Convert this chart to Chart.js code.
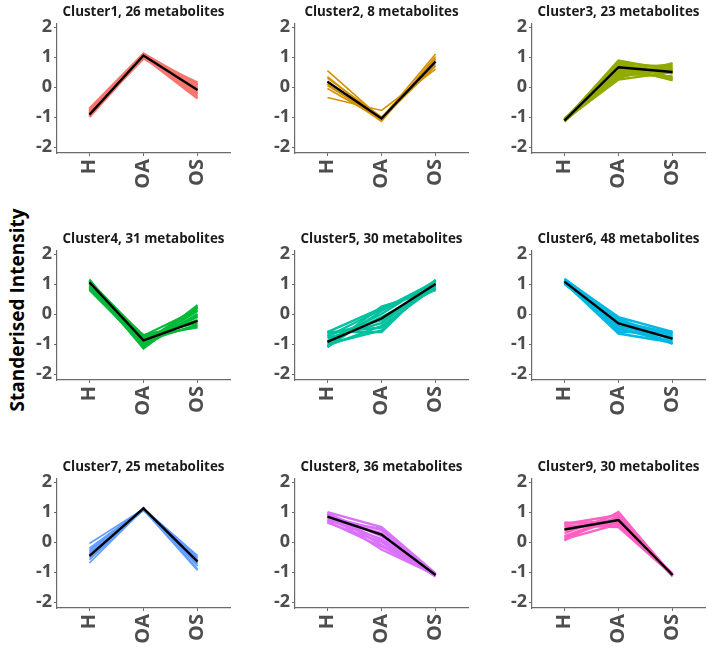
<!DOCTYPE html>
<html>
<head>
<meta charset="utf-8">
<script src="https://cdn.jsdelivr.net/npm/chart.js@4/dist/chart.umd.min.js"></script>
<style>
  html, body { margin: 0; padding: 0; background: #fff; }
  #wrap { position: relative; width: 708px; height: 649px; overflow: hidden; background: #fff; }
  canvas { position: absolute; }
  #ylab { position: absolute; left: 17px; top: 310px; transform: translate(-50%, -50%) rotate(-90deg);
          white-space: nowrap; font: bold 19px 'Open Sans', 'Noto Sans', sans-serif; color: #000; }
</style>
</head>
<body>
<div id="wrap"><div id="ylab"></div></div>
<script>
// ---- data ----
const categories = ['H', 'OA', 'OS'];
const yTicks = [-2, -1, 0, 1, 2];
const clusterIds = [1, 2, 3, 4, 5, 6, 7, 8, 9];
const clusterCounts = [26, 8, 23, 31, 30, 48, 25, 36, 30];
const yAxisLabel = 'Standerised Intensity';

// individual metabolite profiles (H, OA, OS) per cluster, and cluster mean
const c1Lines = [[-1.0, 1.0, -0.38], [-0.95, 1.1, -0.25], [-0.85, 1.05, -0.15], [-0.72, 1.12, 0.05], [-0.75, 1.0, 0.15], [-0.9, 0.95, -0.05], [-0.98, 1.08, 0.0], [-0.82, 1.02, -0.32], [-0.88, 1.1, 0.1], [-0.78, 1.06, -0.2], [-0.93, 1.0, 0.08], [-0.8, 0.98, -0.1]];
const c1Mean = [-0.92, 1.05, -0.1];
const c2Lines = [[0.55, -1.05, 1.1], [0.35, -1.1, 0.95], [0.3, -1.0, 0.85], [0.1, -1.15, 1.02], [-0.05, -1.08, 0.75], [-0.35, -0.78, 0.6], [0.2, -1.12, 0.92], [0.05, -1.05, 0.7]];
const c2Mean = [0.18, -1.05, 0.85];
const c3Lines = [[-1.1, 0.85, 0.3], [-1.12, 0.3, 0.8], [-1.08, 0.75, 0.45], [-1.15, 0.5, 0.6], [-1.1, 0.65, 0.25], [-1.05, 0.4, 0.7], [-1.12, 0.88, 0.55], [-1.1, 0.25, 0.5], [-1.08, 0.6, 0.75], [-1.13, 0.7, 0.22], [-1.1, 0.8, 0.65], [-1.09, 0.45, 0.35], [-1.11, 0.55, 0.48], [-1.1, 0.35, 0.6]];
const c3Mean = [-1.12, 0.66, 0.5];
const c4Lines = [[1.15, -1.1, 0.3], [1.1, -0.75, -0.45], [0.8, -1.0, 0.1], [0.9, -0.7, -0.3], [1.0, -1.15, 0.2], [1.12, -0.9, -0.1], [0.85, -0.85, -0.4], [1.05, -1.05, 0.0], [0.95, -0.8, -0.2], [1.08, -0.95, 0.25], [0.88, -1.08, -0.05], [1.02, -0.72, 0.15], [0.92, -0.92, -0.35]];
const c4Mean = [1.06, -0.88, -0.23];
const c5Lines = [[-0.6, -0.6, 1.15], [-1.1, 0.25, 0.8], [-0.6, 0.2, 0.9], [-1.0, -0.55, 1.1], [-0.8, -0.3, 1.0], [-1.1, 0.1, 1.05], [-0.7, -0.2, 0.85], [-0.9, 0.0, 1.12], [-0.62, -0.45, 0.95], [-1.05, -0.4, 0.9], [-0.75, 0.15, 1.08], [-0.95, -0.1, 0.82]];
const c5Mean = [-0.93, -0.15, 1.0];
const c6Lines = [[1.15, -0.1, -0.6], [1.05, -0.65, -0.95], [1.1, -0.6, -0.6], [1.0, -0.2, -1.0], [1.12, -0.4, -0.8], [1.08, -0.3, -0.7], [1.02, -0.5, -0.9], [1.18, -0.15, -0.85], [1.06, -0.55, -0.75], [1.1, -0.25, -0.65], [1.04, -0.45, -0.98]];
const c6Mean = [1.08, -0.31, -0.82];
const c7Lines = [[-0.05, 1.1, -0.5], [-0.2, 1.12, -0.45], [-0.3, 1.1, -0.7], [-0.5, 1.15, -0.9], [-0.7, 1.1, -0.6], [-0.6, 1.08, -0.95], [-0.4, 1.12, -0.8], [-0.35, 1.05, -0.55], [-0.55, 1.1, -0.75], [-0.25, 1.08, -0.62]];
const c7Mean = [-0.46, 1.12, -0.65];
const c8Lines = [[1.0, 0.5, -1.05], [0.65, 0.0, -1.15], [0.9, -0.25, -1.1], [0.7, 0.45, -1.12], [0.95, 0.2, -1.08], [0.8, 0.3, -1.1], [0.75, 0.1, -1.13], [0.98, -0.1, -1.1], [0.85, 0.4, -1.06], [0.68, -0.15, -1.1], [0.92, 0.05, -1.14]];
const c8Mean = [0.85, 0.25, -1.1];
const c9Lines = [[0.65, 0.55, -1.05], [0.05, 1.0, -1.15], [0.6, 0.9, -1.1], [0.1, 0.6, -1.08], [0.4, 0.75, -1.12], [0.3, 0.95, -1.1], [0.55, 0.5, -1.1], [0.2, 0.85, -1.12], [0.5, 0.65, -1.08], [0.15, 0.8, -1.1], [0.62, 0.7, -1.12]];
const c9Mean = [0.42, 0.73, -1.1];

// ---- styles ----
const palette = ['#F8766D', '#D39200', '#93AA00', '#00BA38', '#00C19F', '#00B9E3', '#619CFF', '#DB72FB', '#FF61C3'];
const lineWidths = [2.4, 1.6, 2.4, 2.2, 2.4, 2.4, 1.6, 2.4, 2.4];
const allLines = [c1Lines, c2Lines, c3Lines, c4Lines, c5Lines, c6Lines, c7Lines, c8Lines, c9Lines];
const allMeans = [c1Mean, c2Mean, c3Mean, c4Mean, c5Mean, c6Mean, c7Mean, c8Mean, c9Mean];

const colLeft = [0, 238, 475];   // canvas left per column
const rowTop = [0, 227, 455];    // canvas top per row
const FONT = "'Open Sans', 'Noto Sans', sans-serif";
const axisColor = '#6b6b6b';
const labelColor = '#4d4d4d';

const wrap = document.getElementById('wrap');
document.getElementById('ylab').textContent = yAxisLabel;

clusterIds.forEach((id, k) => {
  const col = k % 3, row = Math.floor(k / 3);
  const cv = document.createElement('canvas');
  cv.width = 233; cv.height = 198;
  cv.style.left = colLeft[col] + 'px';
  cv.style.top = rowTop[row] + 'px';
  cv.style.width = '233px'; cv.style.height = '198px';
  wrap.appendChild(cv);

  const toPts = v => v.map((y, i) => ({ x: i + 1, y }));
  const datasets = [{
    data: toPts(allMeans[k]), borderColor: '#000', borderWidth: 2.4,
    pointRadius: 0, fill: false, tension: 0, order: 0
  }];
  allLines[k].forEach(v => datasets.push({
    data: toPts(v), borderColor: palette[k], borderWidth: lineWidths[k],
    pointRadius: 0, fill: false, tension: 0, order: 1
  }));

  new Chart(cv, {
    type: 'line',
    data: { datasets },
    options: {
      responsive: false, animation: false, devicePixelRatio: 1,
      layout: { padding: { left: 0, right: 3, top: 0, bottom: 0 } },
      plugins: {
        legend: { display: false },
        tooltip: { enabled: false },
        title: {
          display: true, fullSize: false,
          text: 'Cluster' + id + ', ' + clusterCounts[k] + ' metabolites',
          color: '#1a1a1a',
          font: { family: FONT, size: 13.4, weight: 'bold', lineHeight: 1.2 },
          padding: { top: 4, bottom: 4 }
        }
      },
      scales: {
        x: {
          type: 'linear', min: 0.4, max: 3.6,
          afterBuildTicks: s => { s.ticks = [1, 2, 3].map(v => ({ value: v })); },
          afterFit: s => { s.height = 45; },
          ticks: {
            autoSkip: false, minRotation: 90, maxRotation: 90, padding: 3,
            color: labelColor, font: { family: FONT, size: 20, weight: 'bold' },
            callback: v => categories[v - 1]
          },
          grid: { display: true, drawOnChartArea: false, drawTicks: true, tickLength: 3, color: axisColor },
          border: { display: true, color: axisColor, width: 1.2 }
        },
        y: {
          type: 'linear', min: -2.2, max: 2.1,
          afterBuildTicks: s => { s.ticks = yTicks.map(v => ({ value: v })); },
          afterFit: s => { s.width = 57; },
          ticks: {
            padding: 2, color: labelColor,
            font: { family: FONT, size: 18, weight: 'bold' },
            callback: v => String(v)
          },
          grid: { display: true, drawOnChartArea: false, drawTicks: true, tickLength: 3, color: axisColor },
          border: { display: true, color: axisColor, width: 1.2 }
        }
      }
    }
  });
});
</script>
</body>
</html>
